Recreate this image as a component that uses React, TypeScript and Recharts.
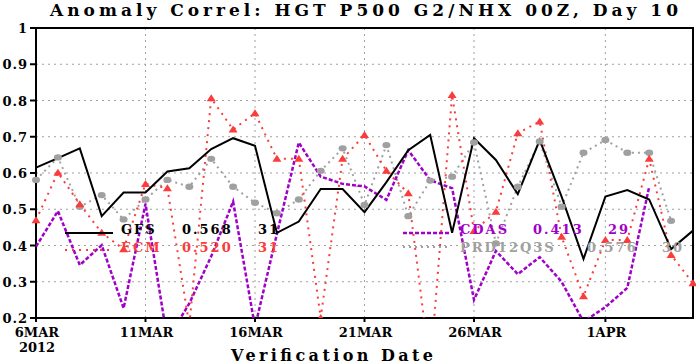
import React from "react";
import {
  CartesianGrid,
  Legend,
  Line,
  LineChart,
  ReferenceArea,
  XAxis,
  YAxis,
} from "recharts";

// days since 6 MAR 2012
const days = Array.from({ length: 31 }, (_, i) => i);

const gfs = [
  0.615, 0.641, 0.668, 0.481, 0.546, 0.546, 0.604, 0.613, 0.666, 0.696, 0.675,
  0.435, 0.466, 0.556, 0.556, 0.492, 0.575, 0.663, 0.705, 0.435, 0.696, 0.636,
  0.542, 0.691, 0.535, 0.363, 0.535, 0.553, 0.527, 0.39, 0.441,
];
const ecm = [
  0.47, 0.601, 0.514, 0.435, 0.39, 0.57, 0.558, 0.18, 0.806, 0.72, 0.765,
  0.639, 0.639, 0.2, 0.639, 0.705, 0.606, 0.544, 0.06, 0.815, 0.44, 0.493,
  0.71, 0.742, 0.424, 0.26, 0.415, 0.415, 0.639, 0.374, 0.296,
];
const cdas = [
  0.397, 0.495, 0.346, 0.401, 0.227, 0.515, 0.14, 0.24, 0.37, 0.521, 0.175,
  0.432, 0.684, 0.59, 0.57, 0.563, 0.526, 0.663, 0.58, 0.558, 0.25, 0.385,
  0.321, 0.368, 0.3, 0.19, 0.23, 0.283, 0.562, null, null,
];
const prd = [
  0.581, 0.643, 0.507, 0.539, 0.472, 0.527, 0.581, 0.562, 0.639, 0.562, 0.518,
  0.489, 0.527, 0.606, 0.668, 0.512, 0.677, 0.481, 0.579, 0.59, 0.684, 0.406,
  0.562, 0.687, 0.507, 0.656, 0.691, 0.656, 0.656, 0.468, null,
];

const tickDays = [0, 5, 10, 15, 20, 26];
const tickLabels = ["6MAR", "11MAR", "16MAR", "21MAR", "26MAR", "1APR"];
const yTicks = [0.2, 0.3, 0.4, 0.5, 0.6, 0.7, 0.8, 0.9, 1];

const seriesNames = ["GFS", "ECM", "CDAS", "PRD12Q3S"];
const seriesScores = ["0.568", "0.520", "0.413", "0.576"];
const seriesCounts = ["31", "31", "29", "30"];

const data = days.map((d, i) => ({
  day: d,
  gfs: gfs[i],
  ecm: ecm[i],
  cdas: cdas[i],
  prd: prd[i],
}));

const FONT = "'DejaVu Serif', serif";
const RED = "#fa3c3c";
const PURPLE = "#a000c8";
const GRAY = "#a0a0a0";

const Triangle = (p: any) => {
  const { cx, cy } = p;
  if (cx == null || cy == null) return <g key={p.key} />;
  return (
    <polygon
      key={p.key}
      points={`${cx},${cy - 4} ${cx - 4.5},${cy + 3} ${cx + 4.5},${cy + 3}`}
      fill={RED}
    />
  );
};

const Blob = (p: any) => {
  const { cx, cy } = p;
  if (cx == null || cy == null) return <g key={p.key} />;
  return <ellipse key={p.key} cx={cx} cy={cy} rx={4} ry={3.2} fill={GRAY} />;
};

const XTick = (p: any) => {
  const { x, y, payload } = p;
  const label = tickLabels[tickDays.indexOf(payload.value)];
  return (
    <g>
      <text x={x + 1} y={y + 13} textAnchor="middle" fontFamily={FONT} fontWeight="bold" fontSize={13} fill="#000">
        {label}
      </text>
      {payload.value === 0 && (
        <text x={x + 1} y={y + 28} textAnchor="middle" fontFamily={FONT} fontWeight="bold" fontSize={13} fill="#000">
          2012
        </text>
      )}
    </g>
  );
};

const YTick = (p: any) => {
  const { x, y, payload } = p;
  const v = payload.value;
  return (
    <text x={x} y={y + 5} textAnchor="end" fontFamily={FONT} fontWeight="bold" fontSize={13} letterSpacing={1} fill="#000">
      {v === 1 ? "1" : v.toFixed(1)}
    </text>
  );
};

// legend rows: GrADS lays each row out as one padded string
function LegendBox() {
  const rows = [
    { lx: 65, ly: 233, nx: 121, vx: 182, cx: 258, by: 234 },
    { lx: 65, ly: 250, nx: 121, vx: 182, cx: 258, by: 252 },
    { lx: 403, ly: 233, nx: 460, vx: 533, cx: 608, by: 234 },
    { lx: 403, ly: 247, nx: 460, vx: 587, cx: 662, by: 252 },
  ];
  const colors = ["#000", RED, PURPLE, GRAY];
  const dashes = [undefined, "2 5", "4 2", "2 4"];
  const widths = [2, 2, 2.5, 2];
  return (
    <svg width={696} height={364} style={{ position: "absolute", left: 0, top: 0 }}>
      {seriesNames.map((name, i) => {
        const r = rows[i];
        const t = { fontFamily: FONT, fontWeight: "bold" as const, fontSize: 13, letterSpacing: 2, fill: colors[i] };
        return (
          <g key={name}>
            <line x1={r.lx} x2={r.lx + 48} y1={r.ly} y2={r.ly} stroke={colors[i]} strokeWidth={widths[i]} strokeDasharray={dashes[i]} />
            <text x={r.nx} y={r.by} {...t}>{name}</text>
            <text x={r.vx} y={r.by} {...t}>{seriesScores[i]}</text>
            <text x={r.cx} y={r.by} {...t}>{seriesCounts[i]}</text>
          </g>
        );
      })}
    </svg>
  );
}

export default function App() {
  return (
    <div style={{ position: "absolute", left: 0, top: 0, width: 696, height: 364, background: "#fff" }}>
      <LineChart
        width={696}
        height={364}
        data={data}
        margin={{ top: 28, right: 3, bottom: 0, left: 0 }}
      >
        <CartesianGrid stroke={GRAY} strokeDasharray="2 4" />
        <XAxis
          dataKey="day"
          type="number"
          domain={[0, 30]}
          ticks={tickDays}
          interval={0}
          height={46}
          axisLine={false}
          tickLine={{ stroke: "#000", strokeWidth: 2 }}
          tickSize={4}
          tick={<XTick />}
        />
        <YAxis
          type="number"
          domain={[0.2, 1]}
          allowDataOverflow
          ticks={yTicks}
          width={36}
          axisLine={false}
          tickLine={{ stroke: "#000", strokeWidth: 2 }}
          tickSize={6}
          tick={<YTick />}
        />
        <Line dataKey="prd" stroke={GRAY} strokeWidth={2} strokeDasharray="2 4" dot={Blob} isAnimationActive={false} />
        <Line dataKey="cdas" stroke={PURPLE} strokeWidth={2.5} strokeDasharray="4 2" dot={false} isAnimationActive={false} />
        <Line dataKey="ecm" stroke={RED} strokeWidth={2} strokeDasharray="2 5" dot={Triangle} isAnimationActive={false} />
        <Line dataKey="gfs" stroke="#000" strokeWidth={2} dot={false} isAnimationActive={false} />
        <ReferenceArea x1={0} x2={30} y1={0.2} y2={1} fill="none" stroke="#000" strokeWidth={2} />
        <Legend
          layout="horizontal"
          verticalAlign="middle"
          align="center"
          content={() => <LegendBox />}
          wrapperStyle={{ position: "absolute", left: 0, top: 0, width: 696, height: 364, pointerEvents: "none" }}
        />
      </LineChart>
      <svg width={696} height={364} style={{ position: "absolute", left: 0, top: 0, pointerEvents: "none" }}>
        <text x={50} y={16} fontFamily={FONT} fontWeight="bold" fontSize={17} textLength={628} lengthAdjust="spacing">
          Anomaly Correl: HGT P500 G2/NHX 00Z, Day 10
        </text>
        <text x={231} y={361} fontFamily={FONT} fontWeight="bold" fontSize={16} textLength={202} lengthAdjust="spacing">
          Verification Date
        </text>
      </svg>
    </div>
  );
}
